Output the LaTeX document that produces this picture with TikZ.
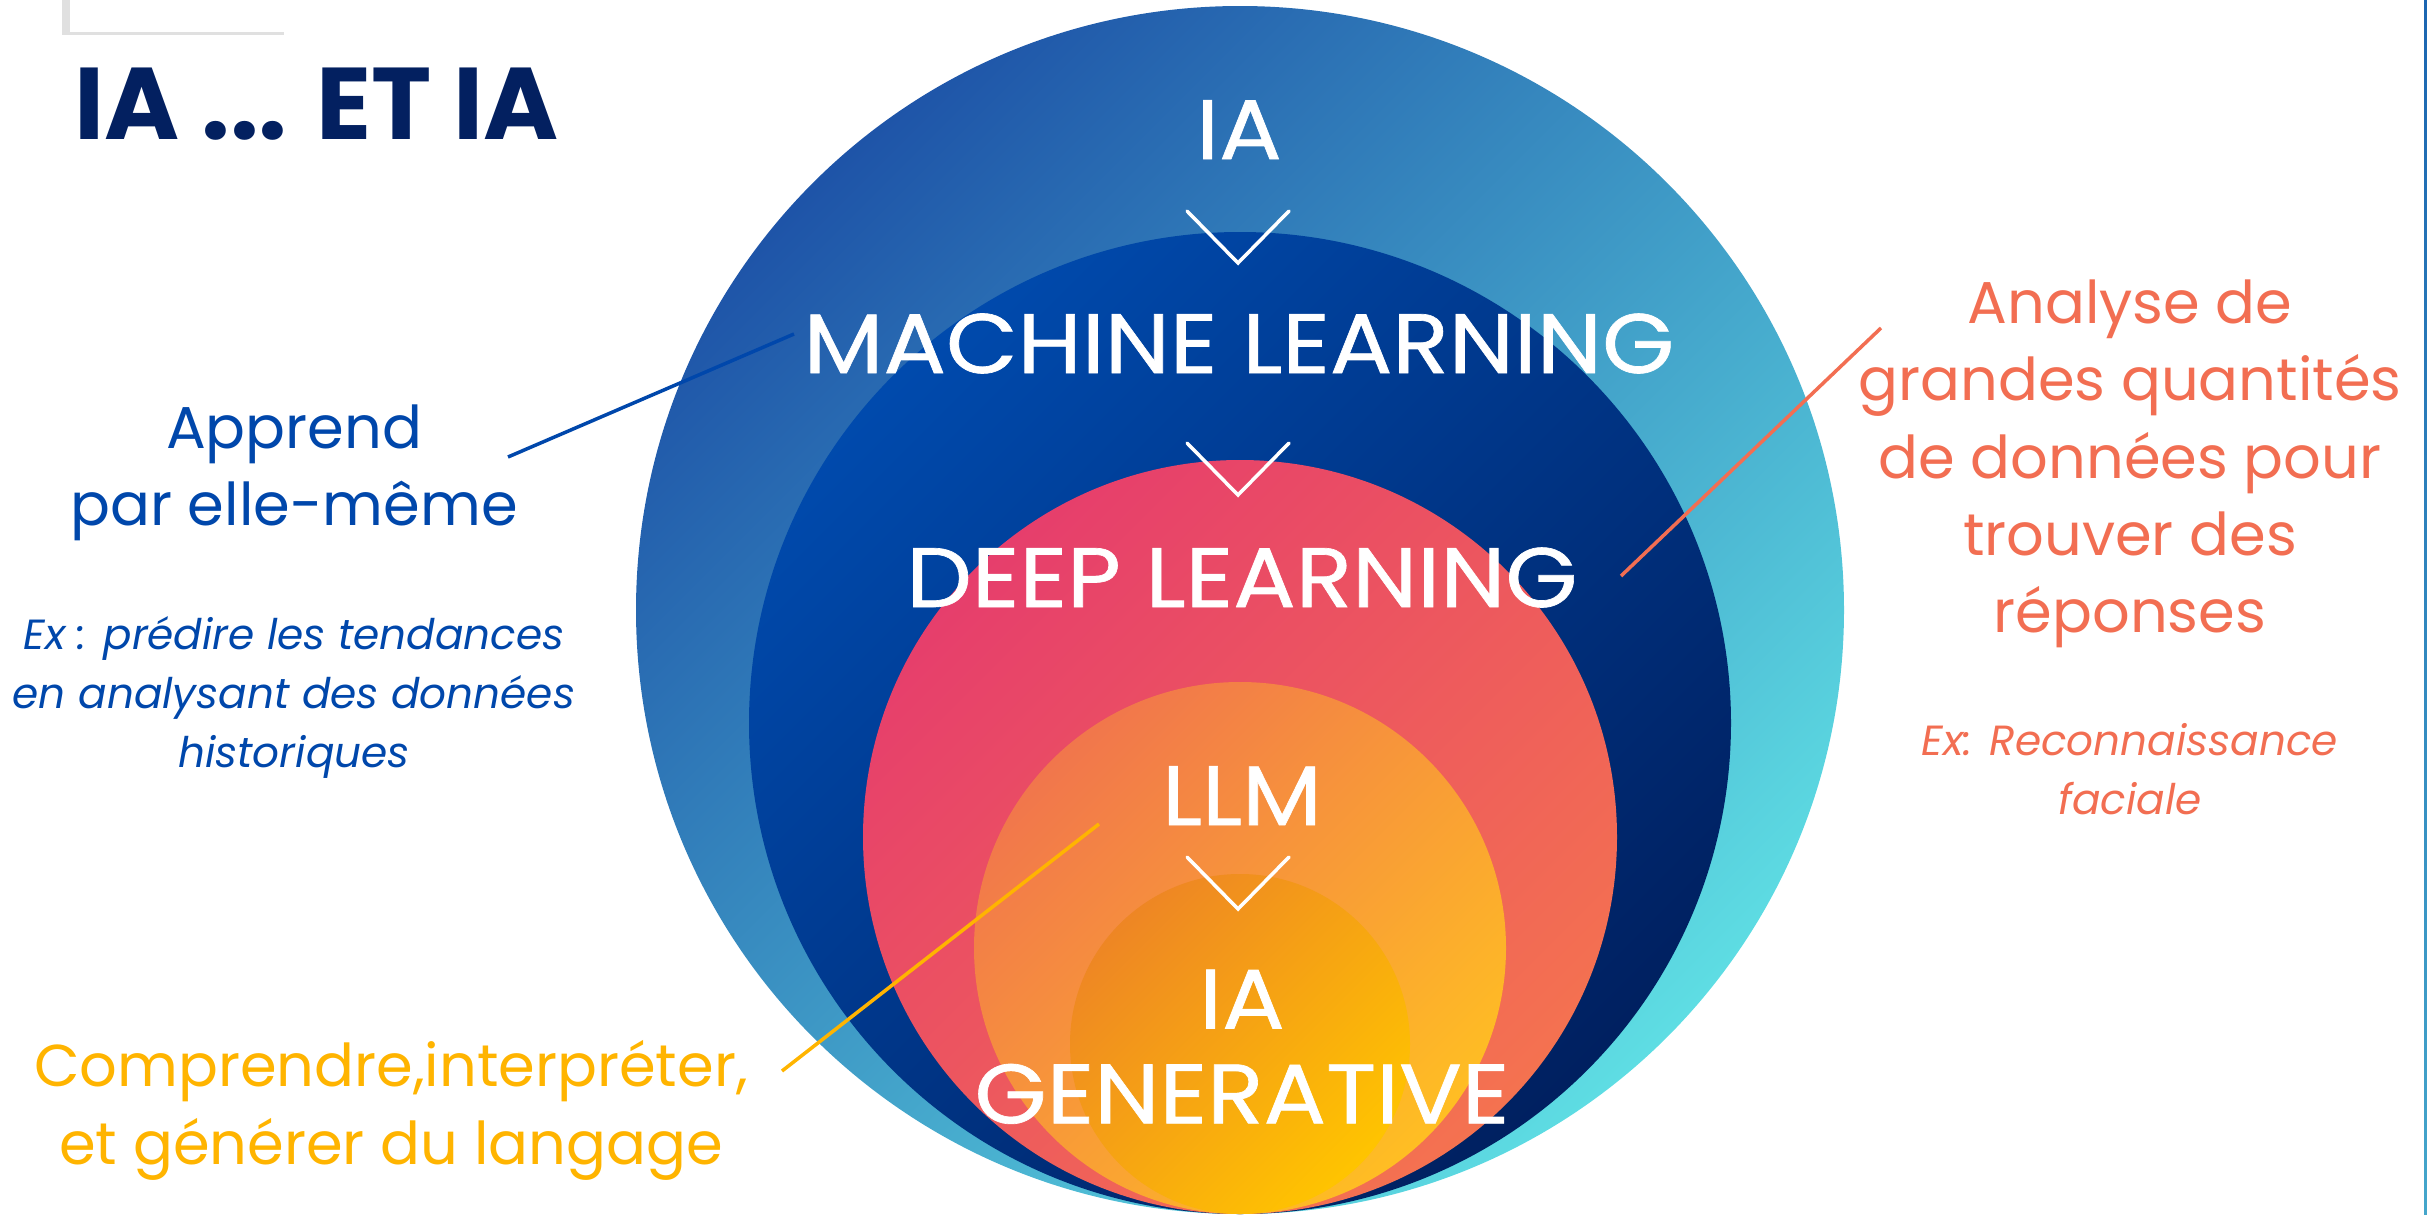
\documentclass[tikz,border=0pt]{standalone}
\usepackage{fontspec}
\setmainfont{Poppins}
\newfontfamily\ringfont{Poppins}[FakeStretch=1.10, FakeBold=0.8]
\usepackage{tikz}
\definecolor{colnavy}{RGB}{3,32,96}
\definecolor{colblue}{RGB}{0,71,171}
\definecolor{colcoral}{RGB}{242,110,82}
\definecolor{colgold}{RGB}{255,180,0}
\definecolor{iatop}{RGB}{30,84,168}
\definecolor{iabot}{RGB}{94,221,227}
\definecolor{mltop}{RGB}{0,74,173}
\definecolor{mlbot}{RGB}{0,32,96}
\definecolor{dltop}{RGB}{230,62,108}
\definecolor{dlbot}{RGB}{244,114,80}
\definecolor{llmtop}{RGB}{241,118,76}
\definecolor{llmbot}{RGB}{255,190,35}
\definecolor{gentop}{RGB}{238,134,36}
\definecolor{genbot}{RGB}{255,196,0}
\usetikzlibrary{
	positioning
}
\tikzset{
	ring/.style={shading angle=45},
	ringtext/.style={text=white, inner sep=0pt, align=center, font=\ringfont\fontsize{24}{27}\selectfont},
	chevron/.style={white, line width=1pt, line cap=round},
	leadline/.style={line width=1pt},
	notebox/.style={align=center, inner sep=0pt, font=\fontsize{16.8}{22}\selectfont},
	examplebox/.style={align=center, inner sep=0pt, font=\fontsize{12}{16.8}\selectfont\itshape}
}

\begin{document}
\begin{tikzpicture}
	\useasboundingbox (0,0) rectangle (24.27,12.14);
	\clip (0,0) rectangle (24.27,12.14);
	\fill[black!12] (0.62,11.79) rectangle (2.84,12.14);
	\fill[white] (0.70,11.82) rectangle (2.86,12.14);
	\shade[top color=iatop!90!cyan, bottom color=iabot!60!iatop] (24.24,0) rectangle (24.27,12.14);

	\shade[top color=iatop, bottom color=iabot, ring] (12.40,6.04) circle (6.04);
	\shade[top color=mltop, bottom color=mlbot, ring] (12.40,4.91) circle (4.91);
	\shade[top color=dltop, bottom color=dlbot, ring] (12.40,3.77) circle (3.77);
	\shade[top color=llmtop, bottom color=llmbot, ring] (12.40,2.66) circle (2.66);
	\shade[top color=gentop, bottom color=genbot, ring] (12.40,1.70) circle (1.70);

	\node[anchor=base west, inner sep=0pt, text=colnavy, font=\fontsize{29}{34}\selectfont\bfseries] (title) at (0.74,10.75) {IA ... ET IA};

	\node[ringtext, anchor=base] (ia) at (12.39,10.55) {IA};
	\node[ringtext, anchor=base] (ml) at (12.39,8.41) {MACHINE LEARNING};
	\node[ringtext, anchor=base] (dl) at (12.42,6.07) {DEEP LEARNING};
	\node[ringtext, anchor=base] (llm) at (12.42,3.89) {LLM};
	\node[ringtext, anchor=north] (gen) at (12.42,2.45) {IA\\GENERATIVE};
	\foreach \y in {9.51,7.19,3.05} {
		\draw[chevron] (11.87,\y+0.52) -- (12.38,\y) -- (12.89,\y+0.52);
	}

	\node[notebox, anchor=north, text=colblue] (apprend) at (2.94,8.10) {Apprend\\par elle-même};
	\node[examplebox, below=0.74 of apprend, text=colblue] (apprendex) {Ex : prédire les tendances\\en analysant des données\\historiques};
	\node[notebox, anchor=north, text=colcoral] (analyse) at (21.30,9.35) {Analyse de\\grandes quantités\\de données pour\\trouver des\\réponses};
	\node[examplebox, below=0.74 of analyse, text=colcoral] (analyseex) {Ex: Reconnaissance\\faciale};
	\node[notebox, anchor=north, text=colgold] (langage) at (3.91,1.74) {Comprendre,interpréter,\\et générer du langage};

	\coordinate (apprendpin) at (5.08,7.57);
	\coordinate (mlpin) at (7.94,8.80);
	\coordinate (analysepin) at (18.81,8.86);
	\coordinate (dlpin) at (16.21,6.38);
	\coordinate (langagepin) at (7.82,1.43);
	\coordinate (llmpin) at (10.99,3.90);
	\draw[leadline, colblue] (apprendpin) -- (mlpin);
	\draw[leadline, colcoral] (analysepin) -- (dlpin);
	\draw[leadline, colgold] (langagepin) -- (llmpin);
\end{tikzpicture}
\end{document}
